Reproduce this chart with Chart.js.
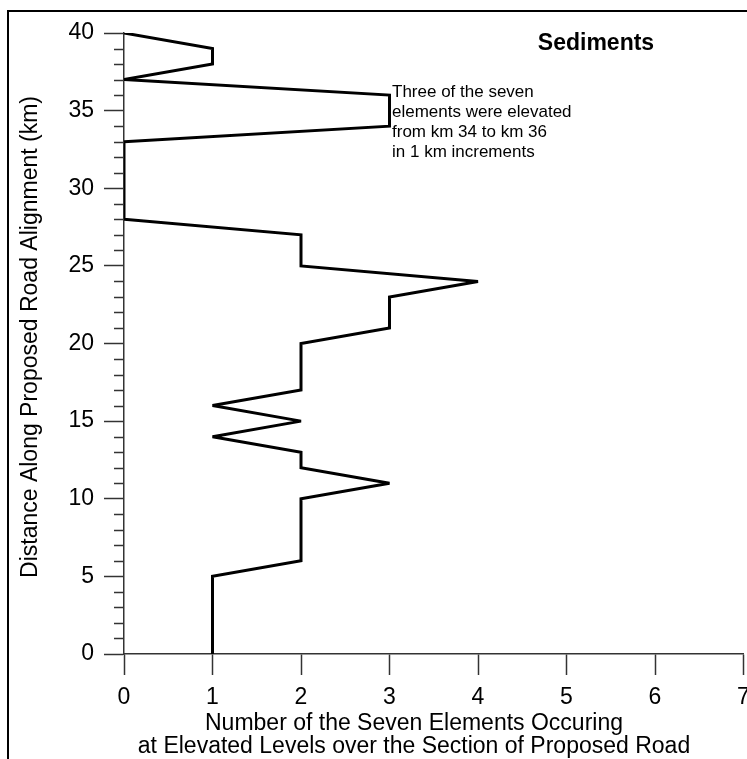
<!DOCTYPE html>
<html>
<head>
<meta charset="utf-8">
<script src="https://cdn.jsdelivr.net/npm/chart.js@4/dist/chart.umd.min.js"></script>
<style>
  html, body { margin: 0; padding: 0; background: #fff; overflow: hidden; }
  #wrap { width: 747px; height: 759px; overflow: hidden; position: relative; }
  canvas { display: block; }
</style>
</head>
<body>
<div id="wrap"><canvas id="chart" width="770" height="759"></canvas></div>
<script>
// Distance along the alignment (km) and the number of elements elevated there
const distanceKm   = [0, 5, 6, 10, 11, 12, 13, 14, 15, 16, 17, 20, 21, 23, 24, 25, 27, 28, 33, 34, 36, 37, 38, 39, 40];
const elementCount = [1, 1, 2, 2, 3, 2, 2, 1, 2, 1, 2, 2, 3, 3, 4, 2, 2, 0, 0, 3, 3, 0, 1, 1, 0];

const xTicks = [0, 1, 2, 3, 4, 5, 6, 7];
const yTicks = [0, 5, 10, 15, 20, 25, 30, 35, 40];

const panelTitle = 'Sediments';
const noteLines = ['Three of the seven', 'elements were elevated', 'from km 34 to km 36', 'in 1 km increments'];
const xTitleLines = ['Number of the Seven Elements Occuring', 'at Elevated Levels over the Section of Proposed Road'];
const yTitle = 'Distance Along Proposed Road Alignment (km)';

const FONT = '"Liberation Sans", Arial, Helvetica, sans-serif';
const AXIS_COLOR = '#333';

const points = distanceKm.map((km, i) => ({ x: elementCount[i], y: km }));

// Outer frame (left and top edges)
const framePlugin = {
  id: 'frame',
  beforeDraw(chart) {
    const ctx = chart.ctx;
    ctx.save();
    ctx.strokeStyle = '#000';
    ctx.lineWidth = 2;
    ctx.beginPath();
    ctx.moveTo(8, chart.height);
    ctx.lineTo(8, 11);
    ctx.lineTo(chart.width, 11);
    ctx.stroke();
    ctx.restore();
  }
};

// Keep square corners but bevel the sharp zig-zag tips
const joinPlugin = {
  id: 'joins',
  beforeDatasetsDraw(chart) { chart.ctx.save(); chart.ctx.miterLimit = 2; },
  afterDatasetsDraw(chart) { chart.ctx.restore(); }
};

// Minor 1 km ticks on the distance axis
const minorTicksPlugin = {
  id: 'minorTicks',
  afterDraw(chart) {
    const ctx = chart.ctx;
    const ys = chart.scales.y;
    const left = chart.chartArea.left;
    ctx.save();
    ctx.strokeStyle = AXIS_COLOR;
    ctx.lineWidth = 1.5;
    ctx.beginPath();
    for (let v = ys.min; v <= ys.max; v++) {
      if (v % 5 === 0) continue;
      const py = Math.round(ys.getPixelForValue(v)) + 0.5;
      ctx.moveTo(left - 10, py);
      ctx.lineTo(left, py);
    }
    ctx.stroke();
    ctx.restore();
  }
};

// Titles and the note beside the km 34–36 excursion
const labelsPlugin = {
  id: 'labels',
  afterDraw(chart) {
    const ctx = chart.ctx;
    ctx.save();
    ctx.fillStyle = '#000';

    ctx.font = 'bold 23px ' + FONT;
    ctx.textAlign = 'center';
    ctx.textBaseline = 'alphabetic';
    ctx.fillText(panelTitle, 596, 50);

    ctx.font = '17px ' + FONT;
    ctx.textAlign = 'left';
    noteLines.forEach((t, i) => ctx.fillText(t, 392, 97 + i * 20));

    ctx.font = '23px ' + FONT;
    ctx.textAlign = 'center';
    ctx.fillText(xTitleLines[0], 414, 730);
    ctx.fillText(xTitleLines[1], 414, 753);

    ctx.translate(37, 337);
    ctx.rotate(-Math.PI / 2);
    ctx.fillText(yTitle, 0, 0);
    ctx.restore();
  }
};

new Chart(document.getElementById('chart'), {
  type: 'scatter',
  data: {
    datasets: [{
      data: points,
      showLine: true,
      borderColor: '#000',
      borderWidth: 3,
      borderJoinStyle: 'miter',
      pointRadius: 0,
      pointHoverRadius: 0,
      fill: false,
      tension: 0
    }]
  },
  options: {
    responsive: false,
    animation: false,
    events: [],
    layout: { padding: { top: 33, right: 26.5, bottom: 0, left: 0 } },
    plugins: { legend: { display: false }, tooltip: { enabled: false } },
    scales: {
      x: {
        type: 'linear',
        min: 0,
        max: 7,
        afterBuildTicks(scale) { scale.ticks = xTicks.map(v => ({ value: v })); },
        afterFit(scale) { scale.height = 105; },
        grid: { drawOnChartArea: false, tickLength: 21, tickWidth: 1.5, tickColor: AXIS_COLOR },
        border: { display: true, color: AXIS_COLOR, width: 1.5 },
        ticks: { color: '#000', font: { family: FONT, size: 23 }, padding: 9, maxRotation: 0 }
      },
      y: {
        type: 'linear',
        min: 0,
        max: 40,
        afterBuildTicks(scale) { scale.ticks = yTicks.map(v => ({ value: v })); },
        afterFit(scale) { scale.width = 124; },
        grid: { drawOnChartArea: false, tickLength: 20, tickWidth: 1.5, tickColor: AXIS_COLOR },
        border: { display: true, color: AXIS_COLOR, width: 1.5 },
        ticks: { color: '#000', font: { family: FONT, size: 23 }, padding: 10 }
      }
    }
  },
  plugins: [framePlugin, joinPlugin, minorTicksPlugin, labelsPlugin]
});
</script>
</body>
</html>
